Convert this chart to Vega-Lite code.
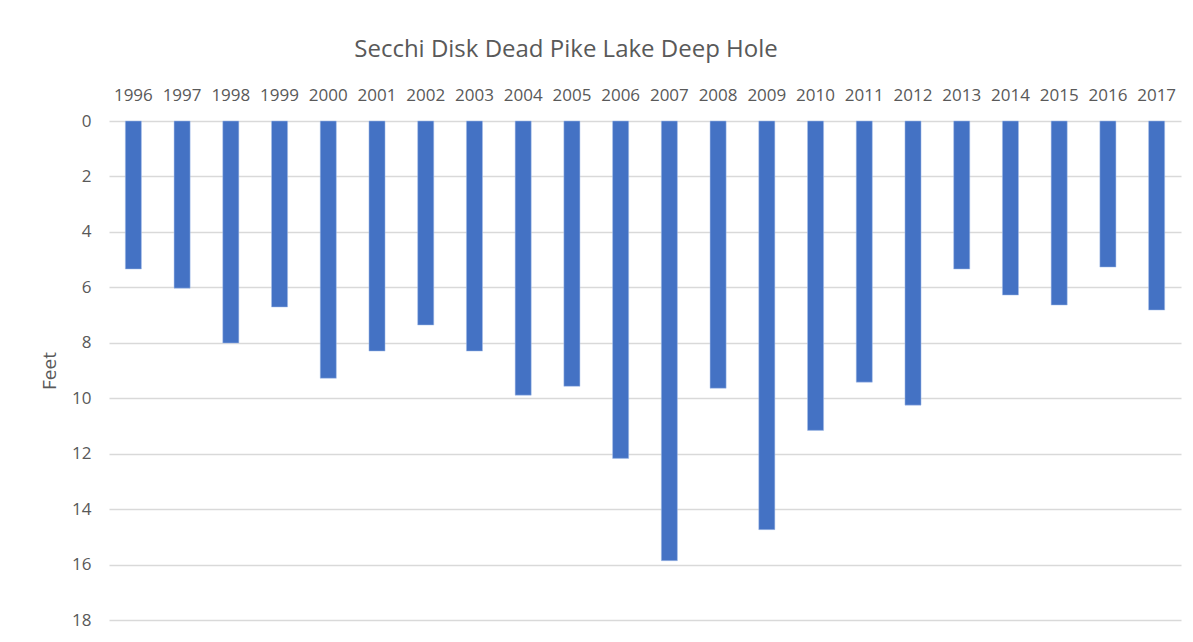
{
  "$schema": "https://vega.github.io/schema/vega-lite/v6.json",
  "width": 1072,
  "height": 499,
  "autosize": {"type": "none"},
  "padding": {"left": 109, "top": 121, "right": 12, "bottom": 22},
  "background": "white",
  "title": {
    "text": "Secchi Disk Dead Pike Lake Deep Hole",
    "font": "Open Sans",
    "fontSize": 24,
    "fontWeight": "normal",
    "color": "#595959",
    "anchor": "middle",
    "frame": "group",
    "dx": -79,
    "offset": 24
  },
  "data": {
    "values": [
      {"year": "1996", "feet": 5.34},
      {"year": "1997", "feet": 6.03},
      {"year": "1998", "feet": 8.01},
      {"year": "1999", "feet": 6.71},
      {"year": "2000", "feet": 9.28},
      {"year": "2001", "feet": 8.3},
      {"year": "2002", "feet": 7.36},
      {"year": "2003", "feet": 8.3},
      {"year": "2004", "feet": 9.89},
      {"year": "2005", "feet": 9.57},
      {"year": "2006", "feet": 12.17},
      {"year": "2007", "feet": 15.86},
      {"year": "2008", "feet": 9.64},
      {"year": "2009", "feet": 14.74},
      {"year": "2010", "feet": 11.16},
      {"year": "2011", "feet": 9.42},
      {"year": "2012", "feet": 10.25},
      {"year": "2013", "feet": 5.34},
      {"year": "2014", "feet": 6.28},
      {"year": "2015", "feet": 6.64},
      {"year": "2016", "feet": 5.27},
      {"year": "2017", "feet": 6.82}
    ]
  },
  "mark": {"type": "bar", "color": "#4472C4", "stroke": "#a9c1ea", "strokeWidth": 0.5},
  "encoding": {
    "x": {
      "field": "year",
      "type": "ordinal",
      "sort": null,
      "scale": {"paddingInner": 0.67, "paddingOuter": 0.335},
      "axis": {
        "orient": "top",
        "title": null,
        "domain": false,
        "ticks": false,
        "labelAngle": 0,
        "labelPadding": 17,
        "labelFont": "Open Sans",
        "labelFontSize": 17,
        "labelColor": "#595959",
        "grid": false
      }
    },
    "y": {
      "field": "feet",
      "type": "quantitative",
      "scale": {"domain": [0, 18], "reverse": true, "nice": false},
      "axis": {
        "values": [0, 2, 4, 6, 8, 10, 12, 14, 16, 18],
        "title": "Feet",
        "titleFont": "Open Sans",
        "titleFontSize": 19,
        "titleFontWeight": "normal",
        "titleColor": "#595959",
        "titlePadding": 12,
        "domain": false,
        "ticks": false,
        "labelPadding": 18,
        "labelFont": "Open Sans",
        "labelFontSize": 17,
        "labelColor": "#595959",
        "grid": true,
        "gridColor": "#d9d9d9",
        "gridWidth": 1.5
      }
    }
  },
  "config": {"view": {"stroke": null}}
}
